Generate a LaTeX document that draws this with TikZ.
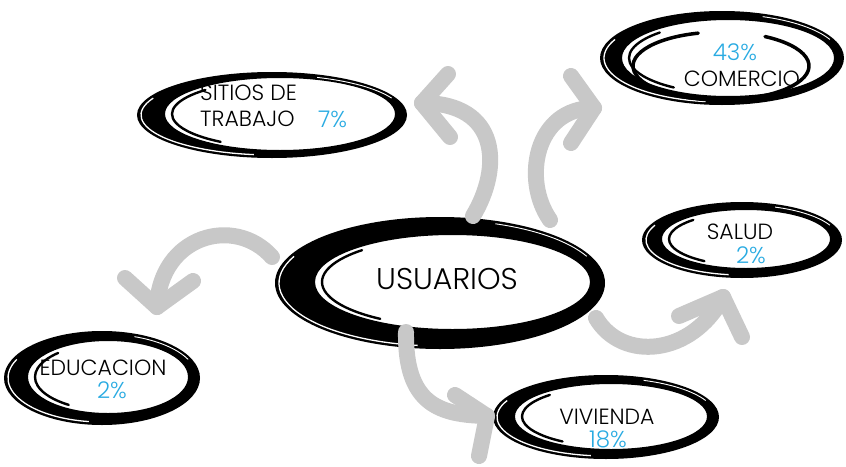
\documentclass[tikz,border=0pt]{standalone}
\usepackage{fontspec}
\setmainfont{Poppins Light}
\usetikzlibrary{shapes.geometric,calc}
\definecolor{arrowgrey}{RGB}{200,200,200}
\definecolor{pctblue}{RGB}{41,171,226}
\tikzset{
  garrow/.style={draw=arrowgrey, line width=16pt, line cap=round, line join=round},
  lbl/.style={font=\fontsize{22}{26}\selectfont, text=black, inner sep=0pt},
  pct/.style={lbl, font=\fontsize{23}{26}\selectfont, text=pctblue},
  ringnode/.style={ellipse, inner sep=0pt},
  streak/.style={white, line width=0.9pt},
  innerarc/.style={black, line width=2.4pt, line cap=round},
}
% name, cx, cy, rx, ry, hole cx, hole cy, hole rx, hole ry
\newcommand{\brushring}[9]{%
  \node[ringnode, minimum width=#4*2pt, minimum height=#5*2pt] (#1) at (#2,#3) {};
  \fill[black, even odd rule] (#2,#3) ellipse[x radius=#4pt, y radius=#5pt]
     (#6,#7) ellipse[x radius=#8pt, y radius=#9pt];
  \draw[streak, line width=1.3pt] ($(#2,#3)+(155:{(#4-4)*1pt} and {(#5-3)*1pt})$)
     arc[start angle=155, end angle=262, x radius={(#4-4)*1pt}, y radius={(#5-3)*1pt}];
  \draw[streak] ($(#2,#3)+(25:{(#4-3)*1pt} and {(#5-3)*1pt})$)
     arc[start angle=25, end angle=70, x radius={(#4-3)*1pt}, y radius={(#5-3)*1pt}];
  \draw[innerarc] ($(#6,#7)+(6,0)+(135:{(#8-1)*1pt} and {(#9-2)*1pt})$)
     arc[start angle=135, end angle=235, x radius={(#8-1)*1pt}, y radius={(#9-2)*1pt}];
}
\begin{document}
\begin{tikzpicture}[x=1pt, y=-1pt]
\useasboundingbox[fill=white] (0,0) rectangle (846,466);

% rings
\brushring{sitios}{272}{115}{135}{43}{280}{114}{115}{36}
\brushring{comercio}{722}{58}{122}{47}{728}{58}{106}{38}
\draw[black, line width=3.5pt, line cap=round] ($(721,66)+(105:88pt and 34pt)$)
   arc[start angle=105, end angle=420, x radius=88pt, y radius=34pt];
\brushring{usuarios}{440}{283}{165}{66}{452.5}{282}{137.5}{47}
\brushring{salud}{742}{240}{100}{38}{746}{239}{84}{29}
\brushring{educacion}{102}{378}{98}{47}{108}{377}{80}{36}
\brushring{vivienda}{606}{417}{113}{42}{611}{416.5}{96}{32.5}

% arrows
\coordinate (s1) at (473,216); \coordinate (t1) at (422,103);
\draw[garrow] (s1) .. controls (502,168) and (500,103) .. (t1);
\coordinate (a1) at (448,74); \coordinate (b1) at (450,137);
\draw[garrow] (a1) -- (t1) -- (b1);

\coordinate (s2) at (550,220); \coordinate (t2) at (594,108);
\draw[garrow] (s2) .. controls (522,180) and (535,108) .. (t2);
\coordinate (a2) at (571,76); \coordinate (b2) at (571,143);
\draw[garrow] (a2) -- (t2) -- (b2);

\coordinate (s3) at (272,257); \coordinate (t3) at (157,307);
\draw[garrow] (s3) .. controls (235,215) and (160,235) .. (t3);
\coordinate (a3) at (125,278); \coordinate (b3) at (193,281);
\draw[garrow] (a3) -- (t3) -- (b3);

\coordinate (s4) at (406,332); \coordinate (t4) at (487,416);
\draw[garrow] (s4) .. controls (405,405) and (440,415) .. (t4);
\coordinate (a4) at (455,395); \coordinate (b4) at (479,456);
\draw[garrow] (a4) -- (t4) -- (b4);

\coordinate (s5) at (596,318); \coordinate (t5) at (723,297);
\draw[garrow] (s5) .. controls (622,362) and (692,356) .. (t5);
\coordinate (a5) at (679,316); \coordinate (b5) at (742,337);
\draw[garrow] (a5) -- (t5) -- (b5);

% labels
\node[lbl, anchor=west] (l1) at (200,93) {SITIOS DE};
\node[lbl, anchor=west] (l2) at (200,119) {TRABAJO};
\node[pct, anchor=west] (p1) at (318,119) {7\%};
\node[pct] (p2) at (735,52) {43\%};
\node[lbl] (l3) at (742,79) {COMERCIO};
\node[lbl, font=\fontsize{30}{34}\selectfont] (l4) at (447,279) {USUARIOS};
\node[lbl] (l5) at (740,232) {SALUD};
\node[pct] (p3) at (751,255) {2\%};
\node[lbl] (l6) at (103,368) {EDUCACION};
\node[pct] (p4) at (112,390) {2\%};
\node[lbl] (l7) at (607,417) {VIVIENDA};
\node[pct] (p5) at (608,439) {18\%};
\end{tikzpicture}
\end{document}
